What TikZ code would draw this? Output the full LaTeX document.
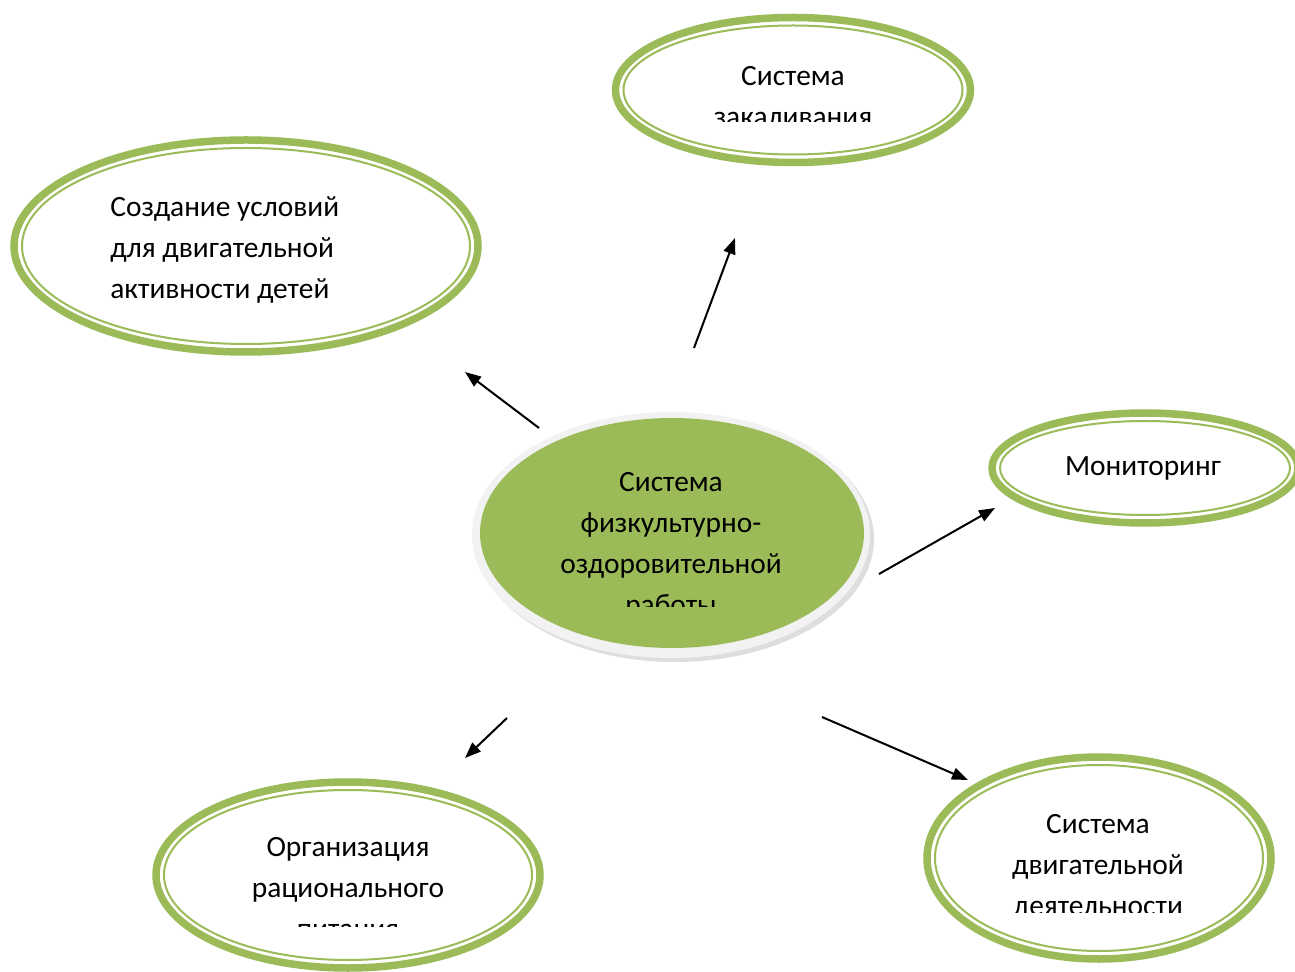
\documentclass[tikz,border=0pt]{standalone}
\usepackage{fontspec}
\setmainfont{Carlito}
\usetikzlibrary{arrows.meta}
\definecolor{olivegreen}{HTML}{9BBB59}
\tikzset{
  rim/.style={draw=olivegreen, line width=3.75pt},
  rimin/.style={draw=olivegreen, line width=1pt},
  lbl/.style={align=center, inner sep=0pt, font=\fontsize{14.7}{20.5}\selectfont},
  arr/.style={-{Triangle[length=8pt,width=6pt]}, line width=1pt}
}
\newcommand\ovalring[4]{%
  \draw[rim] (#1,#2) ellipse [x radius=#3, y radius=#4];
  \draw[rimin] (#1,#2) ellipse [x radius=#3-8, y radius=#4-8];}
\begin{document}
\begin{tikzpicture}[x=0.5pt,y=-0.5pt]
   \useasboundingbox (0,0) rectangle (1295,972);
   \clip (0,0) rectangle (1295,972);
   \fill[white] (0,0) rectangle (1295,972);

   % outer ovals
   \ovalring{793}{90}{177.5}{72.5}
   \ovalring{246}{246}{232}{106}
   \ovalring{1145}{468}{153}{55}
   \ovalring{348}{875}{192}{93}
   \ovalring{1099}{858}{172}{101}

   % centre
   \fill[black!13] (675,539) ellipse [x radius=199, y radius=123];
   \fill[black!5] (671,535) ellipse [x radius=199, y radius=123];
   \fill[olivegreen] (672,533) ellipse [x radius=192, y radius=115];

   % texts
   \begin{scope}
     \clip (500,400) rectangle (850,606);
     \node[lbl] (main) at (671,546) {Система\\физкультурно-\\оздоровительной\\работы};
   \end{scope}
   \begin{scope}
     \clip (620,20) rectangle (960,122);
     \node[lbl] (zakal) at (793,97) {Система\\закаливания};
   \end{scope}
   \node[lbl, align=left, anchor=west] (uslov) at (110,250)
      {Создание условий\\для двигательной\\активности детей};
   \node[lbl] (monit) at (1143,468) {Мониторинг};
   \begin{scope}
     \clip (170,790) rectangle (530,926);
     \node[lbl] (pitan) at (348,888) {Организация\\рационального\\питания};
   \end{scope}
   \begin{scope}
     \clip (940,770) rectangle (1260,912);
     \node[lbl] (dvig) at (1098,867) {Система\\двигательной\\деятельности};
   \end{scope}

   % arrows
   \coordinate (zakal-s) at (694,348);  \coordinate (zakal-e) at (735,238);
   \coordinate (uslov-s) at (539,428);  \coordinate (uslov-e) at (465,372);
   \coordinate (monit-s) at (879,574);  \coordinate (monit-e) at (995,508);
   \coordinate (pitan-s) at (507,718);  \coordinate (pitan-e) at (465,758);
   \coordinate (dvig-s) at (822,717);   \coordinate (dvig-e) at (968,780);
   \draw[arr] (zakal-s) -- (zakal-e);
   \draw[arr] (uslov-s) -- (uslov-e);
   \draw[arr] (monit-s) -- (monit-e);
   \draw[arr] (pitan-s) -- (pitan-e);
   \draw[arr] (dvig-s) -- (dvig-e);
\end{tikzpicture}
\end{document}
